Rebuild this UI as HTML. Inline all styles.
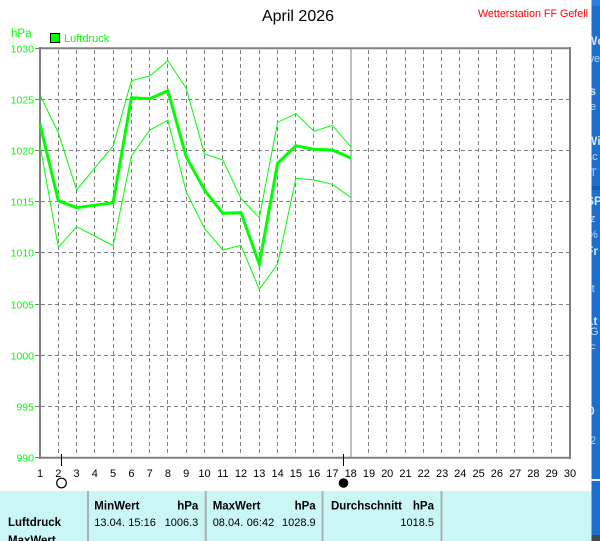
<!DOCTYPE html>
<html>
<head>
<meta charset="utf-8">
<style>
html,body{margin:0;padding:0;background:#fff;}
body{width:600px;height:541px;overflow:hidden;position:relative;font-family:"Liberation Sans",Arial,sans-serif;}
svg{position:absolute;left:0;top:0;}
</style>
</head>
<body>
<svg width="600" height="541" viewBox="0 0 600 541" xmlns="http://www.w3.org/2000/svg" font-family="Liberation Sans, Arial, sans-serif">
  <defs>
    <clipPath id="strip"><rect x="591.5" y="0" width="8.5" height="541"/></clipPath>
  </defs>
  <rect x="0" y="0" width="600" height="541" fill="#ffffff"/>

  <!-- Title -->
  <text x="298" y="21" font-size="16" text-anchor="middle" fill="#000">April 2026</text>
  <text x="588" y="17" font-size="11" text-anchor="end" fill="#ff0000" textLength="110" lengthAdjust="spacingAndGlyphs">Wetterstation FF Gefell</text>

  <!-- hPa + legend -->
  <text x="11" y="37" font-size="11.5" fill="#00ff00">hPa</text>
  <rect x="50.5" y="33.5" width="9" height="9" fill="#00ff00" stroke="#000" stroke-width="1"/>
  <text x="64" y="42" font-size="11" fill="#00ff00">Luftdruck</text>

  <!-- grid: horizontal dashed -->
  <g stroke="#808080" stroke-width="1" stroke-dasharray="4,3" fill="none">
    <line x1="41" y1="99.5" x2="570" y2="99.5"/>
    <line x1="41" y1="150.5" x2="570" y2="150.5"/>
    <line x1="41" y1="201.5" x2="570" y2="201.5"/>
    <line x1="41" y1="252.5" x2="570" y2="252.5"/>
    <line x1="41" y1="304.5" x2="570" y2="304.5"/>
    <line x1="41" y1="355.5" x2="570" y2="355.5"/>
    <line x1="41" y1="406.5" x2="570" y2="406.5"/>
  </g>
  <!-- grid: vertical dashed -->
  <g stroke="#808080" stroke-width="1" stroke-dasharray="4,3" fill="none">
    <line x1="58.5" y1="50" x2="58.5" y2="456"/>
    <line x1="76.5" y1="50" x2="76.5" y2="456"/>
    <line x1="94.5" y1="50" x2="94.5" y2="456"/>
    <line x1="113.5" y1="50" x2="113.5" y2="456"/>
    <line x1="131.5" y1="50" x2="131.5" y2="456"/>
    <line x1="149.5" y1="50" x2="149.5" y2="456"/>
    <line x1="167.5" y1="50" x2="167.5" y2="456"/>
    <line x1="186.5" y1="50" x2="186.5" y2="456"/>
    <line x1="204.5" y1="50" x2="204.5" y2="456"/>
    <line x1="222.5" y1="50" x2="222.5" y2="456"/>
    <line x1="240.5" y1="50" x2="240.5" y2="456"/>
    <line x1="259.5" y1="50" x2="259.5" y2="456"/>
    <line x1="277.5" y1="50" x2="277.5" y2="456"/>
    <line x1="295.5" y1="50" x2="295.5" y2="456"/>
    <line x1="313.5" y1="50" x2="313.5" y2="456"/>
    <line x1="332.5" y1="50" x2="332.5" y2="456"/>
    <line x1="368.5" y1="50" x2="368.5" y2="456"/>
    <line x1="386.5" y1="50" x2="386.5" y2="456"/>
    <line x1="405.5" y1="50" x2="405.5" y2="456"/>
    <line x1="423.5" y1="50" x2="423.5" y2="456"/>
    <line x1="441.5" y1="50" x2="441.5" y2="456"/>
    <line x1="459.5" y1="50" x2="459.5" y2="456"/>
    <line x1="478.5" y1="50" x2="478.5" y2="456"/>
    <line x1="496.5" y1="50" x2="496.5" y2="456"/>
    <line x1="514.5" y1="50" x2="514.5" y2="456"/>
    <line x1="533.5" y1="50" x2="533.5" y2="456"/>
    <line x1="551.5" y1="50" x2="551.5" y2="456"/>
  </g>
  <!-- today line -->
  <line x1="351" y1="49" x2="351" y2="457" stroke="#808080" stroke-width="1"/>

  <!-- frame -->
  <g stroke="#808080" stroke-width="2" fill="none">
    <line x1="39" y1="48.3" x2="571" y2="48.3"/>
    <line x1="40" y1="47" x2="40" y2="459"/>
    <line x1="570" y1="47" x2="570" y2="459"/>
    <line x1="39" y1="457.7" x2="571" y2="457.7"/>
  </g>

  <!-- y ticks -->
  <g stroke="#808080" stroke-width="1">
    <line x1="35" y1="48.5" x2="40" y2="48.5"/>
    <line x1="35" y1="99.5" x2="40" y2="99.5"/>
    <line x1="35" y1="150.5" x2="40" y2="150.5"/>
    <line x1="35" y1="201.5" x2="40" y2="201.5"/>
    <line x1="35" y1="252.5" x2="40" y2="252.5"/>
    <line x1="35" y1="304.5" x2="40" y2="304.5"/>
    <line x1="35" y1="355.5" x2="40" y2="355.5"/>
    <line x1="35" y1="406.5" x2="40" y2="406.5"/>
    <line x1="35" y1="457.5" x2="40" y2="457.5"/>
  </g>
  <!-- y labels -->
  <g font-size="10.5" fill="#00ff00" text-anchor="end">
    <text x="34" y="52.5">1030</text>
    <text x="34" y="103.5">1025</text>
    <text x="34" y="154.5">1020</text>
    <text x="34" y="205.5">1015</text>
    <text x="34" y="256.5">1010</text>
    <text x="34" y="308.5">1005</text>
    <text x="34" y="359.5">1000</text>
    <text x="34" y="410.5">995</text>
    <text x="34" y="461.5">990</text>
  </g>

  <!-- x labels -->
  <g font-size="11" fill="#000" text-anchor="middle">
    <text x="40" y="477">1</text>
    <text x="58.3" y="477">2</text>
    <text x="76.6" y="477">3</text>
    <text x="94.8" y="477">4</text>
    <text x="113.1" y="477">5</text>
    <text x="131.4" y="477">6</text>
    <text x="149.7" y="477">7</text>
    <text x="167.9" y="477">8</text>
    <text x="186.2" y="477">9</text>
    <text x="204.5" y="477">10</text>
    <text x="222.8" y="477">11</text>
    <text x="241" y="477">12</text>
    <text x="259.3" y="477">13</text>
    <text x="277.6" y="477">14</text>
    <text x="295.9" y="477">15</text>
    <text x="314.1" y="477">16</text>
    <text x="332.4" y="477">17</text>
    <text x="350.7" y="477">18</text>
    <text x="369" y="477">19</text>
    <text x="387.2" y="477">20</text>
    <text x="405.5" y="477">21</text>
    <text x="423.8" y="477">22</text>
    <text x="442.1" y="477">23</text>
    <text x="460.3" y="477">24</text>
    <text x="478.6" y="477">25</text>
    <text x="496.9" y="477">26</text>
    <text x="515.2" y="477">27</text>
    <text x="533.4" y="477">28</text>
    <text x="551.7" y="477">29</text>
    <text x="570" y="477">30</text>
  </g>

  <!-- moon markers -->
  <line x1="61.5" y1="454" x2="61.5" y2="466" stroke="#000" stroke-width="1"/>
  <circle cx="61.5" cy="483" r="4.8" fill="none" stroke="#000" stroke-width="1.2"/>
  <line x1="343.5" y1="454" x2="343.5" y2="466" stroke="#000" stroke-width="1"/>
  <circle cx="343.5" cy="483" r="4.8" fill="#000"/>

  <!-- data series -->
  <g fill="none" stroke="#00ff00" stroke-linejoin="miter">
    <polyline stroke-width="1" points="40,95 58.3,132.7 76.6,190 94.8,168 113.1,146 131.4,80.7 149.7,76 167.9,60.7 186.2,88.3 204.5,154 222.8,160 241,198.3 259.3,217.7 277.6,122.3 295.9,113.7 314.1,131.3 332.4,125.3 350.7,146.7"/>
    <polyline stroke-width="1" points="40,145 58.3,247.3 76.6,226.7 94.8,236 113.1,245.7 131.4,156 149.7,130 167.9,120.3 186.2,191.7 204.5,228.3 222.8,250 241,245.3 259.3,289.3 277.6,264 295.9,178.3 314.1,180 332.4,184.3 350.7,197.3"/>
    <polyline stroke-width="3" points="40,124 58.3,200.7 76.6,207.7 94.8,205.2 113.1,202.7 131.4,97.7 149.7,98.7 167.9,90.7 186.2,156.7 204.5,190 222.8,213.3 241,212.7 259.3,264 277.6,163.3 295.9,145.7 314.1,149.3 332.4,150 350.7,158"/>
  </g>

  <!-- table -->
  <rect x="0" y="491" width="592" height="50" fill="#cbf6f6"/>
  <g stroke="#a8b0b0" stroke-width="2">
    <line x1="88" y1="491" x2="88" y2="541"/>
    <line x1="205.7" y1="491" x2="205.7" y2="541"/>
    <line x1="322.5" y1="491" x2="322.5" y2="541"/>
    <line x1="441.5" y1="491" x2="441.5" y2="541"/>
  </g>
  <g font-size="11.5" font-weight="bold" fill="#000">
    <text x="94.3" y="509.5">MinWert</text>
    <text x="198.3" y="509.5" text-anchor="end">hPa</text>
    <text x="212.7" y="509.5">MaxWert</text>
    <text x="315.7" y="509.5" text-anchor="end">hPa</text>
    <text x="331" y="509.5">Durchschnitt</text>
    <text x="434" y="509.5" text-anchor="end">hPa</text>
    <text x="8" y="526">Luftdruck</text>
    <text x="8" y="544">MaxWert</text>
  </g>
  <g font-size="11" fill="#000">
    <text x="94.3" y="526">13.04.</text>
    <text x="128.3" y="526">15:16</text>
    <text x="198.3" y="526" text-anchor="end">1006.3</text>
    <text x="212.7" y="526">08.04.</text>
    <text x="246.7" y="526">06:42</text>
    <text x="315.7" y="526" text-anchor="end">1028.9</text>
    <text x="434" y="526" text-anchor="end">1018.5</text>
  </g>

  <!-- right blue strip -->
  <rect x="591.5" y="0" width="8.5" height="541" fill="#1c6ed0"/>
  <rect x="591.5" y="0" width="8.5" height="6" fill="#2a7fe0"/>
  <rect x="591.5" y="186" width="8.5" height="4" fill="#0f5cc0"/>
  <rect x="591.5" y="479" width="8.5" height="2" fill="#e8f0ff"/>
  <rect x="591.5" y="535" width="8.5" height="6" fill="#404850"/>
  <g clip-path="url(#strip)">
    <g font-size="12" fill="#cfe6ff" font-weight="bold">
      <text x="586" y="45">Wc</text>
      <text x="586" y="95">Is</text>
      <text x="586" y="145">Wi</text>
      <text x="586" y="205">SP</text>
      <text x="586" y="255">Fr</text>
      <text x="586" y="325">Lt</text>
      <text x="588" y="415">0</text>
    </g>
    <g font-size="11" fill="#b8d8ff">
      <text x="586" y="62">we</text>
      <text x="587" y="110">te</text>
      <text x="586" y="160">ac</text>
      <text x="590" y="176">T</text>
      <text x="590" y="222">z</text>
      <text x="588" y="238">%</text>
      <text x="588" y="292">rt</text>
      <text x="590" y="335">G</text>
      <text x="589" y="352">F</text>
      <text x="590" y="444">2</text>
    </g>
  </g>
</svg>
</body>
</html>
